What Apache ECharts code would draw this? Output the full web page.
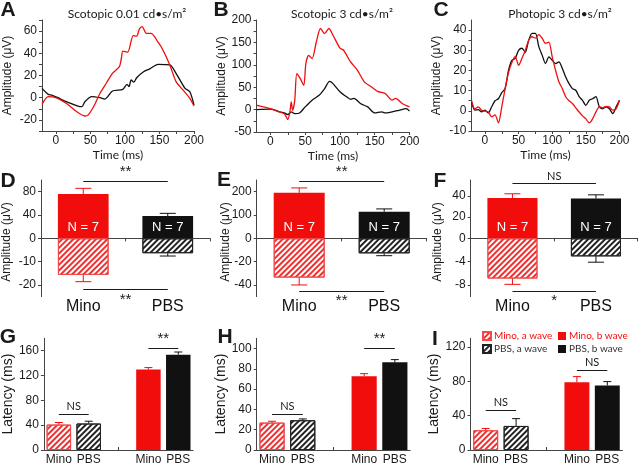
<!DOCTYPE html>
<html>
<head>
<meta charset="utf-8">
<script src="https://cdn.jsdelivr.net/npm/echarts@6/dist/echarts.min.js"></script>
<style>
html, body { margin: 0; padding: 0; background: #fff; }
#main { width: 640px; height: 467px; }
</style>
</head>
<body>
<div id="main"></div>
<script>
// ERG traces, [time (ms), amplitude (uV)]
var aRed = [[-20,-6],[-11,1],[0,0],[15,-5],[30,-12.5],[42,-16.5],[47,-15.5],[56,-6.6],[64,4],[73,13],[82,22],[92,28],[95,36],[97,42],[104,41],[112,56],[117,55.5],[121,62],[125,64],[131,58],[138,58],[148,50],[155,43],[165,29.5],[174,14.5],[184,7],[194,-0.6],[200,-7.5]];
var aBlack = [[-20,8.4],[-11,3],[-6,2.4],[3,0],[15,-3.6],[32,-7.5],[38,-8],[42,-3.6],[52,1],[64,0],[71,-1.2],[82,6],[97,7.5],[103,12],[106,10],[109,16],[113,14],[117,18],[126,23],[136,26],[148,30],[165,29.5],[174,22],[187,8.4],[194,5.4],[200,-6.6]];
var bRed = [[-20,9.7],[-10,6],[0,2],[10,-4],[20,-9],[25,-22],[28,-5],[30,17],[32,-2],[35,21],[38,80],[43,69],[48,54],[51,103],[55,121],[60,114],[66,151],[72,181],[78,170],[84,181],[90,166],[100,137],[105,133],[115,107],[125,88],[135,62],[145,51],[155,40],[165,36],[175,21],[180,25],[190,13],[200,6]];
var bBlack = [[-20,0],[0,1],[10,-3],[20,-7.5],[25,-11],[30,-5],[35,-9],[42,-7.5],[50,6],[60,21],[70,32],[78,47],[85,63],[90,58],[100,40],[110,28],[115,23],[120,25],[130,13],[140,6],[150,-7.5],[160,-5],[165,-7.5],[175,-5],[185,-1.5],[195,2],[200,-3]];
var cTime = [-20,-15,-10,-5,0,5,10,15,20,25,30,35,40,45,50,55,60,65,70,75,80,85,90,95,100,105,110,115,120,125,130,135,140,145,150,155,160,165,170,175,180,185,190,195,200];
var cRed = [5.2,1,2,0.3,-0.2,-0.6,-3,-2,-6,2,11,19,24,27,22.5,26,30,35,36.7,36,37.8,36,33.4,34,26.7,20,14.3,11,7,5,3.6,1.5,-0.6,-2.5,-4,-6,-4,-0.5,2,1.5,2.2,2,0.3,1,5.2];
var cBlack = [4.4,0.3,0.6,-0.5,0.3,-1,2,5,6,9,11,20,25,26,30,31,29,35,38.4,38.4,31.8,27.6,23.4,26.7,25,23.4,24.3,21,16.8,13.5,11,10.2,7,5.2,2.7,5.2,6,7,2,1,2,1,-1.4,2,5.2];

var timeLabels = [0, 50, 100, 150, 200];
var timeTicks = [0, 25, 50, 75, 100, 125, 150, 175, 200];

// amplitude bars: b wave up, a wave down (mean, sem)
var groups = ['Mino', 'PBS'];
var nCount = [7, 7];
var dB = [76, 38.3], dBsem = [9.7, 4.5], dA = [-15.7, -6.4], dAsem = [2.9, 1.2];
var eB = [195, 114], eBsem = [21, 12], eA = [-33.7, -12.9], eAsem = [6.3, 2];
var fB = [38, 37.5], fBsem = [4, 3.5], fA = [-6.9, -3.1], fAsem = [1, 1];
var ampSig = [['**', '**'], ['**', '**'], ['NS', '*']];
var ampSigLevel = [[97, -22], [246, -45], [51.6, -9]];

// latency bars
var latCats = ['Mino', 'PBS', '', 'Mino', 'PBS'];
var latNames = ['Mino, a wave', 'PBS, a wave', 'Mino, b wave', 'PBS, b wave'];
var gLat = [41, 42.7, 129.6, 153.6], gSem = [3.3, 3.7, 3.2, 4.3];
var hLat = [27, 29.3, 72.6, 86.3], hSem = [1.3, 1.3, 2.6, 2.7];
var iLat = [23, 28, 78.8, 75], iSem = [2, 8.5, 6.6, 4.6];
var latSig = [['NS', '**'], ['NS', '**'], ['NS', 'NS']];
var latSigLevel = [[57.6, 164], [35.2, 100], [46.2, 93]];

var RED = '#f20d0d', BLACK = '#111111', AXIS = '#444', TXT = '#1a1a1a';
var FONT = '"Liberation Sans", Arial, sans-serif';
var SOFT = 'Lato, "Noto Sans", sans-serif';
var latPos = [0, 1, 3, 4];
var latCol = [RED, BLACK, RED, BLACK];

var chart = echarts.init(document.getElementById('main'));
var grid = [], xAxis = [], yAxis = [], series = [];

function merge(a, b) {
    var out = {}, k;
    for (k in a) out[k] = a[k];
    for (k in b) {
        if (b[k] && typeof b[k] === 'object' && !Array.isArray(b[k]) && a[k] && typeof a[k] === 'object') out[k] = merge(a[k], b[k]);
        else out[k] = b[k];
    }
    return out;
}

function axis(o) {
    return merge({
        axisLine: { show: true, onZero: false, lineStyle: { color: AXIS, width: 1 } },
        axisTick: { show: true, length: 3, lineStyle: { color: AXIS } },
        axisLabel: { color: TXT, fontSize: 12, fontFamily: FONT, margin: 5 },
        splitLine: { show: false },
        nameTextStyle: { color: TXT, fontSize: 12, fontFamily: FONT }
    }, o);
}

// diagonal hatching for the a-wave bars
function hatch(c) {
    var dark = c === BLACK;
    return { symbol: 'rect', symbolSize: 1, color: dark ? '#222' : '#f03030',
        dashArrayX: [1, 0], dashArrayY: dark ? [1.6, 1.4] : [1.2, 1.8], rotation: -Math.PI / 4 };
}
function hatchStyle(c) {
    return { color: '#fff', borderColor: c === BLACK ? '#222' : '#f04a4a', borderWidth: 1, decal: hatch(c) };
}

function errBars(gi, data, cols, cap) {
    return {
        type: 'custom', xAxisIndex: gi, yAxisIndex: gi, data: data, z: 3, silent: true,
        encode: { x: 0, y: [1, 2] },
        renderItem: function (params, api) {
            var i = api.value(0);
            var p0 = api.coord([i, api.value(1)]);
            var p1 = api.coord([i, api.value(2)]);
            var st = { stroke: cols[params.dataIndex], lineWidth: 1 };
            return { type: 'group', children: [
                { type: 'line', shape: { x1: p0[0], y1: p0[1], x2: p1[0], y2: p1[1] }, style: st },
                { type: 'line', shape: { x1: p1[0] - cap / 2, y1: p1[1], x2: p1[0] + cap / 2, y2: p1[1] }, style: st }
            ] };
        }
    };
}

function sigLine(a, b, lvl, txt, pos) {
    return [{ coord: [a, lvl], label: { formatter: txt, position: pos, fontSize: txt === 'NS' ? 11 : 15, fontFamily: txt === 'NS' ? SOFT : FONT } }, { coord: [b, lvl] }];
}

function tracePanel(box, yMin, yMax, yLab, yTick, nameGap, red, black) {
    var gi = grid.length;
    grid.push({ left: box[0], top: box[1], width: box[2], height: box[3] });
    xAxis.push(axis({ type: 'value', gridIndex: gi, min: -20, max: 200,
        axisTick: { customValues: timeTicks }, axisLabel: { customValues: timeLabels, margin: 4 },
        name: 'Time (ms)', nameLocation: 'middle', nameGap: 18, nameTextStyle: { fontFamily: SOFT } }));
    yAxis.push(axis({ type: 'value', gridIndex: gi, min: yMin, max: yMax,
        axisTick: { customValues: yTick }, axisLabel: { customValues: yLab },
        name: 'Amplitude (μV)', nameLocation: 'middle', nameGap: nameGap }));
    [[black, BLACK], [red, RED]].forEach(function (s) {
        series.push({ type: 'line', xAxisIndex: gi, yAxisIndex: gi, data: s[0], showSymbol: false,
            smooth: 0.25, lineStyle: { color: s[1], width: 1.3 } });
    });
}

function ampPanel(k, left, width, upMax, upLab, loMin, loLab, b, bSem, a, aSem) {
    var gu = grid.length, gl = gu + 1;
    var cols = [RED, BLACK];
    grid.push({ left: left, top: 180, width: width, height: 58.3 },
              { left: left, top: 238.3, width: width, height: 58.3 });
    xAxis.push(axis({ type: 'category', gridIndex: gu, data: groups, axisLabel: { show: false } }));
    xAxis.push(axis({ type: 'category', gridIndex: gl, data: groups, axisLine: { show: false },
        axisTick: { show: false }, axisLabel: { fontSize: 16, margin: 2, color: '#111' } }));
    yAxis.push(axis({ type: 'value', gridIndex: gu, min: 0, max: upMax,
        axisTick: { customValues: upLab }, axisLabel: { customValues: upLab } }));
    yAxis.push(axis({ type: 'value', gridIndex: gl, min: loMin, max: 0,
        axisTick: { customValues: loLab }, axisLabel: { customValues: loLab } }));
    series.push({
        type: 'bar', xAxisIndex: gu, yAxisIndex: gu, data: b, barWidth: '60%',
        itemStyle: { color: function (p) { return cols[p.dataIndex]; } },
        label: { show: true, position: 'insideBottom', distance: 4, color: '#fff', fontSize: 13, fontFamily: FONT,
            formatter: function (p) { return 'N = ' + nCount[p.dataIndex]; } },
        markLine: { silent: true, symbol: ['none', 'none'], lineStyle: { color: TXT, width: 1, type: 'solid' },
            label: { color: TXT, distance: 2 },
            data: [sigLine(0, 1, ampSigLevel[k][0], ampSig[k][0], 'middle')] }
    });
    series.push({
        type: 'bar', xAxisIndex: gl, yAxisIndex: gl, barWidth: '60%',
        data: a.map(function (v, i) { return { value: v, itemStyle: hatchStyle(cols[i]) }; }),
        markLine: { silent: true, symbol: ['none', 'none'], lineStyle: { color: TXT, width: 1, type: 'solid' },
            label: { color: TXT, distance: 3 },
            data: [sigLine(0, 1, ampSigLevel[k][1], ampSig[k][1], 'insideMiddleBottom')] }
    });
    series.push(errBars(gu, b.map(function (v, i) { return [i, v, v + bSem[i]]; }), cols, 16));
    series.push(errBars(gl, a.map(function (v, i) { return [i, v, v - aSem[i]]; }), cols, 16));
}

function latPanel(k, left, width, yMax, yLab, vals, sem, nameGap) {
    var gi = grid.length;
    grid.push({ left: left, top: 338.3, width: width, height: 111.7 });
    xAxis.push(axis({ type: 'category', gridIndex: gi, data: latCats,
        axisTick: { alignWithLabel: true, inside: true, length: 3 }, axisLabel: { margin: 4, interval: 0 } }));
    yAxis.push(axis({ type: 'value', gridIndex: gi, min: 0, max: yMax,
        axisTick: { customValues: yLab }, axisLabel: { customValues: yLab },
        name: 'Latency (ms)', nameLocation: 'middle', nameGap: nameGap, nameTextStyle: { fontSize: 14 } }));
    latNames.forEach(function (nm, j) {
        var data = latCats.map(function () { return '-'; });
        data[latPos[j]] = vals[j];
        var c = latCol[j];
        var s = { type: 'bar', name: nm, xAxisIndex: gi, yAxisIndex: gi, data: data,
            barWidth: '82%', barGap: '-100%', itemStyle: j < 2 ? hatchStyle(c) : { color: c } };
        if (j === 0) {
            s.markLine = { silent: true, symbol: ['none', 'none'], lineStyle: { color: TXT, width: 1, type: 'solid' },
                label: { color: TXT, distance: 2 },
                data: [sigLine(0, 1, latSigLevel[k][0], latSig[k][0], 'middle'),
                       sigLine(3, 4, latSigLevel[k][1], latSig[k][1], 'middle')] };
        }
        series.push(s);
    });
    series.push(errBars(gi, vals.map(function (v, j) { return [latPos[j], v, v + sem[j]]; }), latCol, 8));
}

tracePanel([42, 20, 152, 111], -30, 70, [-20, 0, 20, 40, 60], [-30, -20, -10, 0, 10, 20, 30, 40, 50, 60, 70], 28, aRed, aBlack);
tracePanel([256.5, 20, 153, 112], -50, 200, [-50, 0, 50, 100, 150, 200], [-50, -25, 0, 25, 50, 75, 100, 125, 150, 175, 200], 22, bRed, bBlack);
tracePanel([471.5, 20, 148, 111], -10, 45, [-10, 0, 10, 20, 30, 40], [-10, -5, 0, 5, 10, 15, 20, 25, 30, 35, 40], 29,
    cTime.map(function (t, i) { return [t, cRed[i]]; }), cTime.map(function (t, i) { return [t, cBlack[i]]; }));

ampPanel(0, 41, 169, 100, [0, 40, 80], -25, [-10, -20], dB, dBsem, dA, dAsem);
ampPanel(1, 256.7, 170, 250, [0, 100, 200], -50, [-20, -40], eB, eBsem, eA, eAsem);
ampPanel(2, 470.7, 167, 55, [0, 20, 40], -10, [-4, -8], fB, fBsem, fA, fAsem);

latPanel(0, 40.7, 152.5, 180, [0, 40, 80, 120, 160], gLat, gSem, 27);
latPanel(1, 256.7, 153.5, 110, [0, 20, 40, 60, 80, 100], hLat, hSem, 28);
latPanel(2, 470.5, 152, 130, [0, 40, 80, 120], iLat, iSem, 26);

function txt(x, y, s, font, extra) {
    return merge({ type: 'text', x: x, y: y, silent: true,
        style: { text: s, font: font, fill: TXT, align: 'center', verticalAlign: 'middle' } }, extra || {});
}

var letterFont = 'bold 21px ' + FONT;
var graphic = [
    txt(8, 10, 'A', letterFont), txt(221, 10, 'B', letterFont), txt(441, 10, 'C', letterFont),
    txt(8, 181, 'D', letterFont), txt(224, 180, 'E', letterFont), txt(440, 181, 'F', letterFont),
    txt(8, 337, 'G', letterFont), txt(225, 337, 'H', letterFont), txt(435, 339, 'I', letterFont),
    txt(127, 14, 'Scotopic 0.01 cd•s/m²', '12px ' + SOFT),
    txt(342, 14, 'Scotopic 3 cd•s/m²', '12px ' + SOFT),
    txt(560, 14, 'Photopic 3 cd•s/m²', '12px ' + SOFT),
    txt(7, 242, 'Amplitude (μV)', '12px ' + FONT, { rotation: Math.PI / 2 }),
    txt(226, 242, 'Amplitude (μV)', '12px ' + FONT, { rotation: Math.PI / 2 }),
    txt(438, 242, 'Amplitude (μV)', '12px ' + FONT, { rotation: Math.PI / 2 })
];

function legend(left, names) {
    return { left: left, top: 326, orient: 'vertical', itemWidth: 8, itemHeight: 8, itemGap: 3,
        selectedMode: false, icon: 'rect',
        textStyle: { fontSize: 10, fontFamily: SOFT, padding: [0, 0, 0, -2] },
        data: names.map(function (n) { return { name: n, textStyle: { color: n.indexOf('Mino') === 0 ? RED : '#333' } }; }) };
}

chart.setOption({
    animation: false,
    backgroundColor: '#fff',
    grid: grid,
    xAxis: xAxis,
    yAxis: yAxis,
    legend: [legend(477, latNames.slice(0, 2)), legend(553, latNames.slice(2))],
    graphic: graphic,
    series: series
});
</script>
</body>
</html>
